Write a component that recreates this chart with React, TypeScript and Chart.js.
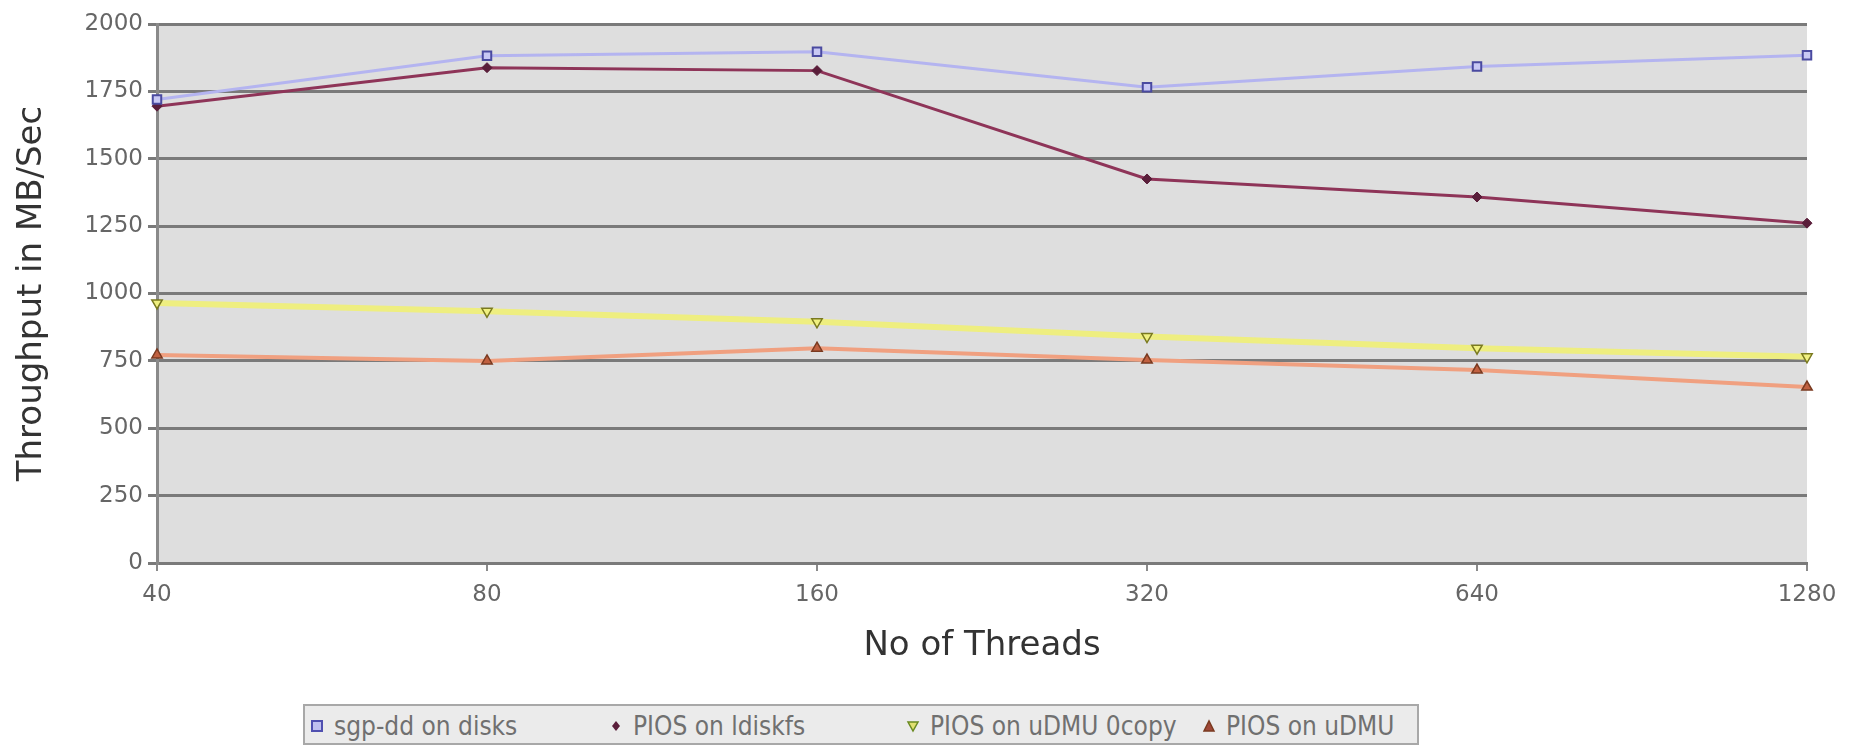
import React, { useEffect, useRef } from 'react';
import { Chart, registerables } from 'chart.js';

Chart.register(...registerables);

const threads = ['40', '80', '160', '320', '640', '1280'];
const seriesNames = ['sgp-dd on disks', 'PIOS on ldiskfs', 'PIOS on uDMU 0copy', 'PIOS on uDMU'];
const sgpDd = [1720, 1882, 1897, 1765, 1842, 1884];
const piosLdiskfs = [1695, 1838, 1827, 1425, 1358, 1261];
const piosUdmu0copy = [965, 934, 895, 840, 797, 765];
const piosUdmu = [772, 750, 797, 753, 716, 653];
const yMin = 0;
const yMax = 2000;
const yStep = 250;

const FONT = '"DejaVu Sans", sans-serif';

const plotBg = {
  id: 'plotBg',
  beforeDraw(chart: any) {
    const { ctx, chartArea } = chart;
    if (!chartArea) return;
    ctx.save();
    ctx.fillStyle = '#dedede';
    ctx.fillRect(chartArea.left, chartArea.top, chartArea.right - chartArea.left, chartArea.bottom - chartArea.top);
    ctx.restore();
  },
};

function Marker({ kind }: { kind: number }) {
  if (kind === 0)
    return (
      <svg width="14" height="14" style={{ display: 'block' }}>
        <rect x="2" y="2" width="10" height="10" fill="#c0c0f0" stroke="#5050b0" strokeWidth="2" />
      </svg>
    );
  if (kind === 1)
    return (
      <svg width="14" height="14" style={{ display: 'block' }}>
        <polygon points="7,2 11,7 7,12 3,7" fill="#5a1e3a" />
      </svg>
    );
  if (kind === 2)
    return (
      <svg width="14" height="14" style={{ display: 'block' }}>
        <polygon points="2,3 12,3 7,12" fill="#e0e070" stroke="#6a8a20" strokeWidth="1.5" />
      </svg>
    );
  return (
    <svg width="14" height="14" style={{ display: 'block' }}>
      <polygon points="2,12 12,12 7,2" fill="#a04838" stroke="#7a3a20" strokeWidth="1.5" />
    </svg>
  );
}

export default function App() {
  const ref = useRef<HTMLCanvasElement | null>(null);

  useEffect(() => {
    document.body.style.margin = '0';
    if (!ref.current) return;
    const chart = new Chart(ref.current, {
      type: 'line',
      data: {
        labels: threads,
        datasets: [
          {
            label: seriesNames[0],
            data: sgpDd,
            borderColor: '#b4b4f0',
            borderWidth: 3,
            pointStyle: 'rect',
            pointRadius: 6,
            pointBackgroundColor: '#c8c8f4',
            pointBorderColor: '#4a4aa0',
            pointBorderWidth: 2,
          },
          {
            label: seriesNames[1],
            data: piosLdiskfs,
            borderColor: '#8e3458',
            borderWidth: 3,
            pointStyle: 'rectRot',
            pointRadius: 5,
            pointBackgroundColor: '#5a1e3a',
            pointBorderColor: '#5a1e3a',
            pointBorderWidth: 1,
          },
          {
            label: seriesNames[2],
            data: piosUdmu0copy,
            borderColor: '#eeee80',
            borderWidth: 6,
            pointStyle: 'triangle',
            rotation: 180,
            pointRadius: 6,
            pointBackgroundColor: '#f0f080',
            pointBorderColor: '#7a7a20',
            pointBorderWidth: 1.5,
          },
          {
            label: seriesNames[3],
            data: piosUdmu,
            borderColor: '#f0a080',
            borderWidth: 4,
            pointStyle: 'triangle',
            pointRadius: 6,
            pointBackgroundColor: '#c06040',
            pointBorderColor: '#7a3a20',
            pointBorderWidth: 1.5,
          },
        ],
      },
      options: {
        animation: false,
        responsive: false,
        maintainAspectRatio: false,
        layout: { padding: { top: 24, right: 47, bottom: 74, left: 0 } },
        plugins: {
          legend: { display: false },
          tooltip: { enabled: false },
        },
        elements: { line: { tension: 0 } },
        scales: {
          x: {
            type: 'category',
            offset: false,
            afterFit: (s: any) => {
              s.height = 110;
            },
            grid: {
              drawOnChartArea: false,
              drawTicks: true,
              tickLength: 8,
              color: '#8a8a8a',
              lineWidth: 2,
            },
            border: { display: true, color: '#7a7a7a', width: 3 },
            ticks: {
              color: '#666',
              padding: 10,
              maxRotation: 0,
              font: { family: FONT, size: 23 },
            },
            title: {
              display: true,
              text: 'No of Threads',
              color: '#333',
              font: { family: FONT, size: 34 },
              padding: { top: 0, bottom: 6 },
            },
          },
          y: {
            min: yMin,
            max: yMax,
            afterFit: (s: any) => {
              s.width = 157;
            },
            grid: {
              color: '#7a7a7a',
              lineWidth: 3,
              tickLength: 9,
            },
            border: { display: true, color: '#8a8a8a', width: 3 },
            ticks: {
              stepSize: yStep,
              color: '#666',
              padding: 5,
              font: { family: FONT, size: 23 },
              callback: (v: any) => String(v),
            },
            title: {
              display: true,
              text: 'Throughput in MB/Sec',
              color: '#333',
              font: { family: FONT, size: 34 },
              padding: { top: 12, bottom: 0 },
            },
          },
        },
      },
      plugins: [plotBg],
    } as any);
    return () => chart.destroy();
  }, []);

  const legendX = [310, 609, 906, 1202];

  return (
    <div style={{ position: 'relative', width: 1854, height: 747, background: '#fff', overflow: 'hidden' }}>
      <canvas ref={ref} width={1854} height={747} style={{ display: 'block', width: 1854, height: 747 }} />
      <div
        style={{
          position: 'absolute',
          left: 303,
          top: 704,
          width: 1116,
          height: 41,
          border: '2px solid #a8a8a8',
          background: '#ebebeb',
          boxSizing: 'border-box',
        }}
      />
      {seriesNames.map((name, i) => (
        <div
          key={name}
          style={{
            position: 'absolute',
            left: legendX[i],
            top: 710,
            height: 32,
            display: 'flex',
            alignItems: 'center',
            gap: 10,
            fontFamily: '"DejaVu Sans Condensed", "DejaVu Sans", sans-serif',
            fontSize: 26,
            color: '#707070',
            whiteSpace: 'nowrap',
          }}
        >
          <Marker kind={i} />
          <span>{name}</span>
        </div>
      ))}
    </div>
  );
}
